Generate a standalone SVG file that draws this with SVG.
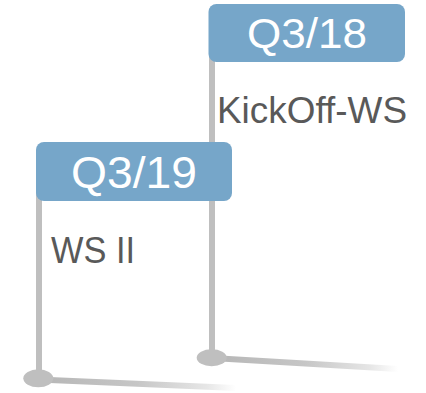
<svg xmlns="http://www.w3.org/2000/svg" width="426" height="393" viewBox="0 0 426 393">
  <defs>
    <linearGradient id="fade" x1="0" y1="0" x2="1" y2="0">
      <stop offset="0" stop-color="#b6b6b6"/>
      <stop offset="0.5" stop-color="#c6c6c6"/>
      <stop offset="0.85" stop-color="#e6e6e6"/>
      <stop offset="1" stop-color="#ffffff"/>
    </linearGradient>
  </defs>
  <style>
    .stem { fill: #bfbfbf; }
    .dot { fill: #bfbfbf; }
    .base { fill: url(#fade); }
    .box { fill: #76a6c9; }
    .date { font-family: "Liberation Sans", Arial, sans-serif; fill: #ffffff; text-anchor: middle; }
    .label { font-family: "Liberation Sans", Arial, sans-serif; fill: #595959; font-size: 37px; }
  </style>
  <rect width="426" height="393" fill="#ffffff"/>
  <g id="connectors">
    <polygon class="base" points="212,355 398,366 398,372 212,361"/>
    <polygon class="base" points="38,376.5 236,385 236,391 38,382.5"/>
    <rect class="stem" x="209" y="30" width="6" height="328"/>
    <rect class="stem" x="36" y="170" width="6" height="209"/>
    <ellipse class="dot" cx="211.7" cy="357.7" rx="15" ry="8.5"/>
    <ellipse class="dot" cx="38.3" cy="378.3" rx="15" ry="9"/>
  </g>
  <g id="node-q318">
    <rect class="box" x="208.5" y="4" width="196.5" height="58" rx="8"/>
    <text class="date" x="307" y="47.5" font-size="42" textLength="120" lengthAdjust="spacingAndGlyphs">Q3/18</text>
    <text class="label" x="217" y="123" textLength="190" lengthAdjust="spacingAndGlyphs">KickOff-WS</text>
  </g>
  <g id="node-q319">
    <rect class="box" x="36" y="142" width="196" height="59" rx="8"/>
    <text class="date" x="134" y="187.5" font-size="44" textLength="126" lengthAdjust="spacingAndGlyphs">Q3/19</text>
    <text class="label" x="51" y="263" textLength="84" lengthAdjust="spacingAndGlyphs">WS II</text>
  </g>
</svg>
